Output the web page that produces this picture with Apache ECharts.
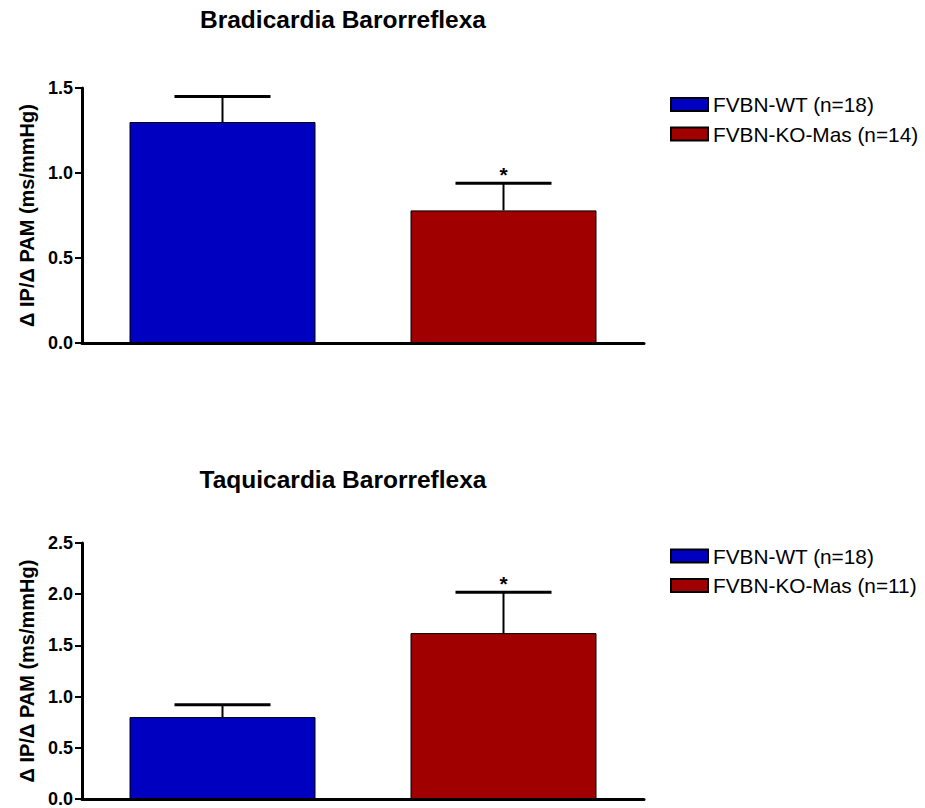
<!DOCTYPE html>
<html>
<head>
<meta charset="utf-8">
<script src="https://cdn.jsdelivr.net/npm/echarts@6/dist/echarts.min.js"></script>
<style>
html,body{margin:0;padding:0;background:#fff;}
#chart{width:925px;height:808px;}
</style>
</head>
<body>
<div id="chart"></div>
<script>
// ---- data ----
const categories = ['FVBN-WT', 'FVBN-KO-Mas'];
const bradiTitle = 'Bradicardia Barorreflexa';
const taquiTitle = 'Taquicardia Barorreflexa';
const bradiNames = ['FVBN-WT (n=18)', 'FVBN-KO-Mas (n=14)'];
const taquiNames = ['FVBN-WT (n=18)', 'FVBN-KO-Mas (n=11)'];
const bradiMeans = [1.30, 0.78];
const bradiErr = [0.15, 0.16];
const bradiSig = ['', '*'];
const taquiMeans = [0.80, 1.62];
const taquiErr = [0.12, 0.40];
const taquiSig = ['', '*'];
const bradiTicks = [0, 1.5, 0.5];   // min, max, interval
const taquiTicks = [0, 2.5, 0.5];
const yName = 'Δ IP/Δ PAM (ms/mmHg)';
const colors = ['#0000C0', '#A00000'];

const FONT = 'Liberation Sans, Arial, Helvetica, sans-serif';

function makeBars(names, means, gridIdx) {
  return names.map((n, i) => ({
    name: n,
    type: 'bar',
    xAxisIndex: gridIdx, yAxisIndex: gridIdx,
    barWidth: 186,
    barGap: '-100%',
    data: means.map((v, j) => (j === i ? v : '-')),
    itemStyle: { color: colors[i], borderColor: '#000', borderWidth: 1 },
    z: 2
  }));
}

function makeErr(means, errs, sig, gridIdx) {
  return {
    type: 'custom',
    xAxisIndex: gridIdx, yAxisIndex: gridIdx,
    data: means.map((v, j) => [j, v, errs[j]]),
    z: 5,
    silent: true,
    renderItem: function (params, api) {
      const x = api.value(0), v = api.value(1), e = api.value(2);
      const p0 = api.coord([x, v]);
      const p1 = api.coord([x, v + e]);
      const half = 48;
      const children = [
        { type: 'line', shape: { x1: p0[0], y1: p0[1], x2: p1[0], y2: p1[1] }, style: { stroke: '#000', lineWidth: 2 } },
        { type: 'line', shape: { x1: p1[0] - half, y1: p1[1], x2: p1[0] + half, y2: p1[1] }, style: { stroke: '#000', lineWidth: 3 } }
      ];
      const s = sig[params.dataIndex];
      if (s) {
        children.push({ type: 'text', style: { text: s, x: p1[0], y: p1[1] - 9, fill: '#000', font: 'bold 21px ' + FONT, align: 'center', verticalAlign: 'middle' } });
      }
      return { type: 'group', children: children };
    }
  };
}

function yAxis(ticks, gridIdx) {
  return {
    type: 'value', gridIndex: gridIdx,
    min: ticks[0], max: ticks[1], interval: ticks[2],
    name: yName, nameLocation: 'middle', nameGap: 45, nameRotate: 90,
    nameTextStyle: { fontFamily: FONT, fontWeight: 'bold', fontSize: 20, color: '#000' },
    axisLine: { show: true, lineStyle: { color: '#000', width: 3 } },
    axisTick: { show: true, length: 7, lineStyle: { color: '#000', width: 2 } },
    axisLabel: { fontFamily: FONT, fontWeight: 'bold', fontSize: 18, color: '#000', margin: 9, formatter: v => v.toFixed(1) },
    splitLine: { show: false }
  };
}

function xAxis(gridIdx) {
  return {
    type: 'category', gridIndex: gridIdx, data: categories,
    axisLine: { show: true, lineStyle: { color: '#000', width: 3 } },
    axisTick: { show: false }, axisLabel: { show: false }, splitLine: { show: false }
  };
}

function legend(names, top) {
  return {
    data: names, orient: 'vertical', left: 670, top: top, padding: 0,
    icon: 'rect', itemWidth: 37, itemHeight: 13, itemGap: 7.5,
    selectedMode: false,
    textStyle: { fontFamily: FONT, fontSize: 20.8, color: '#000', lineHeight: 22 }
  };
}

const chart = echarts.init(document.getElementById('chart'), null, { renderer: 'svg' });
chart.setOption({
  backgroundColor: '#fff',
  animation: false,
  title: [
    { text: bradiTitle, left: 343, top: 7, padding: 0, textAlign: 'center', textStyle: { fontFamily: FONT, fontWeight: 'bold', fontSize: 24.5, color: '#000' } },
    { text: taquiTitle, left: 343, top: 467, padding: 0, textAlign: 'center', textStyle: { fontFamily: FONT, fontWeight: 'bold', fontSize: 24.5, color: '#000' } }
  ],
  legend: [legend(bradiNames, 93.5), legend(taquiNames, 545)],
  grid: [
    { left: 82, top: 88, width: 562, height: 255 },
    { left: 82, top: 543, width: 562, height: 256 }
  ],
  xAxis: [xAxis(0), xAxis(1)],
  yAxis: [yAxis(bradiTicks, 0), yAxis(taquiTicks, 1)],
  series: [
    ...makeBars(bradiNames, bradiMeans, 0),
    makeErr(bradiMeans, bradiErr, bradiSig, 0),
    ...makeBars(taquiNames, taquiMeans, 1),
    makeErr(taquiMeans, taquiErr, taquiSig, 1)
  ]
});
</script>
</body>
</html>
